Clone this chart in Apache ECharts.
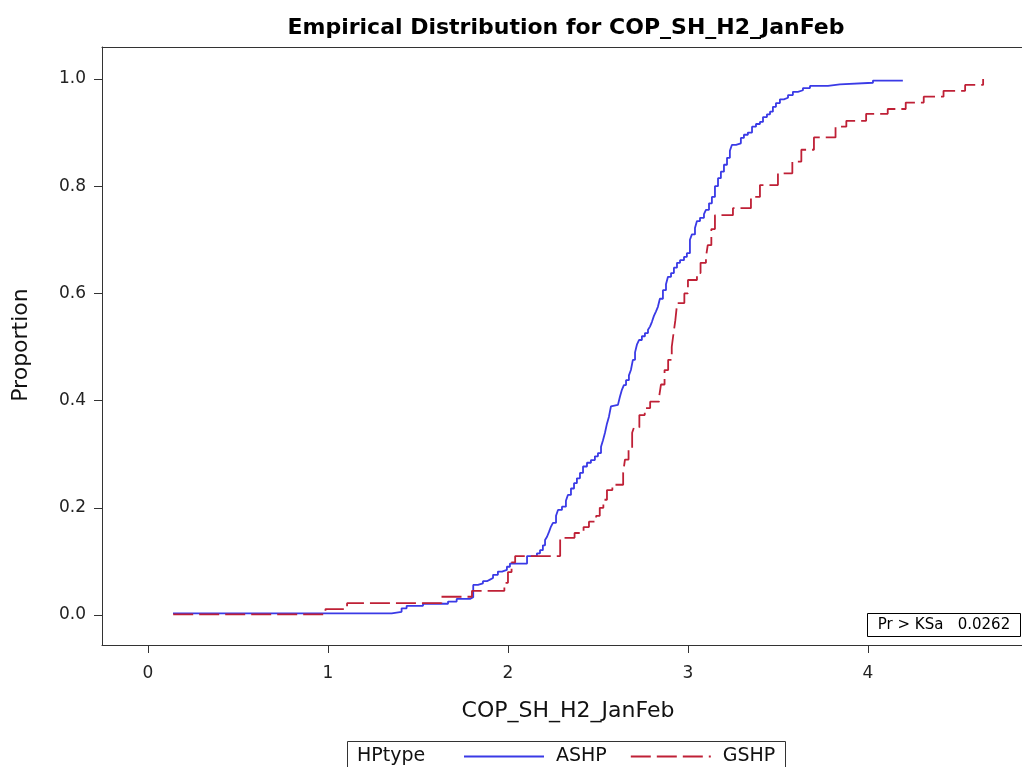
<!DOCTYPE html>
<html>
<head>
<meta charset="utf-8">
<script src="https://cdn.jsdelivr.net/npm/echarts@6/dist/echarts.min.js"></script>
<style>html,body{margin:0;padding:0;background:#fff;}#c{width:1022px;height:767px;}</style>
</head>
<body>
<div id="c"></div>
<script>
// ---- data ----
const ashpX = [0.139,1.354,1.409,1.437,1.528,1.667,1.715,1.789,1.807,1.833,1.861,1.883,1.90,1.917,1.944,1.967,1.994,2.011,2.106,2.161,2.178,2.194,2.206,2.217,2.228,2.239,2.25,2.267,2.278,2.30,2.322,2.333,2.35,2.367,2.383,2.40,2.417,2.439,2.461,2.483,2.50,2.517,2.528,2.539,2.55,2.561,2.572,2.583,2.611,2.622,2.633,2.644,2.656,2.672,2.683,2.694,2.706,2.717,2.728,2.744,2.761,2.778,2.789,2.80,2.811,2.822,2.833,2.844,2.861,2.878,2.889,2.906,2.922,2.939,2.956,2.978,2.994,3.011,3.022,3.039,3.05,3.067,3.089,3.10,3.117,3.133,3.15,3.167,3.183,3.20,3.217,3.233,3.244,3.267,3.294,3.311,3.333,3.356,3.378,3.40,3.417,3.439,3.456,3.472,3.489,3.511,3.533,3.556,3.583,3.611,3.639,3.678,3.778,3.844,4.028,4.194];
const ashpY = [0.003,0.006,0.0125,0.017,0.021,0.025,0.030,0.033,0.056,0.059,0.063,0.066,0.069,0.075,0.081,0.084,0.090,0.096,0.110,0.115,0.121,0.130,0.140,0.146,0.155,0.165,0.172,0.185,0.196,0.202,0.213,0.224,0.236,0.246,0.255,0.265,0.277,0.284,0.289,0.296,0.302,0.314,0.326,0.340,0.357,0.370,0.389,0.392,0.395,0.407,0.420,0.429,0.438,0.447,0.457,0.476,0.490,0.505,0.513,0.520,0.526,0.532,0.538,0.547,0.558,0.566,0.575,0.590,0.606,0.617,0.631,0.638,0.648,0.657,0.662,0.668,0.675,0.700,0.710,0.722,0.735,0.741,0.748,0.756,0.768,0.780,0.800,0.815,0.827,0.840,0.853,0.866,0.877,0.880,0.890,0.896,0.900,0.911,0.916,0.920,0.929,0.934,0.939,0.948,0.955,0.962,0.965,0.970,0.976,0.979,0.983,0.987,0.990,0.993,0.997,0.998];
const gshpX = [0.14,0.986,1.106,1.63,1.80,1.98,2.00,2.02,2.04,2.29,2.37,2.42,2.45,2.49,2.51,2.53,2.55,2.58,2.64,2.65,2.67,2.69,2.70,2.73,2.76,2.79,2.84,2.85,2.87,2.89,2.91,2.92,2.93,2.94,2.98,3.00,3.05,3.07,3.10,3.11,3.13,3.15,3.25,3.35,3.40,3.50,3.58,3.63,3.70,3.82,3.88,3.99,4.11,4.21,4.31,4.42,4.54,4.64];
const gshpY = [0.001,0.011,0.022,0.034,0.045,0.060,0.080,0.098,0.110,0.144,0.153,0.164,0.174,0.185,0.200,0.215,0.233,0.243,0.265,0.290,0.308,0.340,0.350,0.373,0.386,0.398,0.407,0.430,0.457,0.476,0.500,0.526,0.550,0.582,0.600,0.625,0.638,0.657,0.668,0.690,0.720,0.746,0.759,0.780,0.802,0.824,0.846,0.868,0.891,0.911,0.922,0.935,0.944,0.956,0.967,0.978,0.989,1.000];
const xTicks = [0, 1, 2, 3, 4];
const yTicks = [0.0, 0.2, 0.4, 0.6, 0.8, 1.0];
const seriesNames = ['ASHP', 'GSHP'];
const titleText = 'Empirical Distribution for COP_SH_H2_JanFeb';
const xTitle = 'COP_SH_H2_JanFeb';
const yTitle = 'Proportion';
const legendTitle = 'HPtype';
const ksLabel = 'Pr > KSa   0.0262';

const pairs = (xs, ys) => xs.map((x, i) => [x, ys[i]]);

const FONT = 'DejaVu Sans';
const AX = '#333';
const chart = echarts.init(document.getElementById('c'), null, {renderer: 'canvas'});
chart.setOption({
  animation: false,
  backgroundColor: '#fff',
  grid: {left: 102, right: 0, top: 47, bottom: 122, containLabel: false},
  xAxis: [{
    type: 'value', min: -0.2556, max: 4.856,
    axisLine: {show: true, onZero: false, lineStyle: {color: AX, width: 1}},
    axisTick: {show: true, length: 8, customValues: xTicks, lineStyle: {color: AX}},
    axisLabel: {customValues: xTicks, margin: 20, fontFamily: FONT, fontSize: 17, color: '#222'},
    splitLine: {show: false}
  }, {
    type: 'value', position: 'top', min: -0.2556, max: 4.856,
    axisLine: {show: true, onZero: false, lineStyle: {color: AX, width: 1}},
    axisTick: {show: false}, axisLabel: {show: false}, splitLine: {show: false}
  }],
  yAxis: {
    type: 'value', min: -0.056, max: 1.0597,
    axisLine: {show: true, onZero: false, lineStyle: {color: AX, width: 1}},
    axisTick: {show: true, length: 8, customValues: yTicks, lineStyle: {color: AX}},
    axisLabel: {customValues: yTicks, margin: 16, fontFamily: FONT, fontSize: 17, color: '#222',
      formatter: v => v.toFixed(1)},
    splitLine: {show: false}
  },
  legend: {
    left: 463, top: 747, padding: 0, itemWidth: 80, itemHeight: 14, itemGap: 23,
    data: seriesNames,
    itemStyle: {opacity: 0},
    textStyle: {fontFamily: FONT, fontSize: 19, color: '#111', padding: [0, 0, 0, 7]}
  },
  series: [{
    name: seriesNames[0], type: 'line', step: 'end', symbol: 'none', showSymbol: false,
    data: pairs(ashpX, ashpY),
    lineStyle: {color: '#3a3ae6', width: 1.8},
    itemStyle: {color: '#3a3ae6'}
  }, {
    name: seriesNames[1], type: 'line', step: 'end', symbol: 'none', showSymbol: false,
    data: pairs(gshpX, gshpY),
    lineStyle: {color: '#bf2036', width: 1.8, type: [20, 6]},
    itemStyle: {color: '#bf2036'}
  }],
  graphic: [
    {type: 'text', x: 566, y: 28, style: {text: titleText, fontFamily: FONT, fontWeight: 'bold', fontSize: 22, fill: '#000', align: 'center', verticalAlign: 'middle'}},
    {type: 'text', x: 568, y: 711, style: {text: xTitle, fontFamily: FONT, fontSize: 22, fill: '#111', align: 'center', verticalAlign: 'middle'}},
    {type: 'text', x: 21, y: 345, rotation: Math.PI / 2, style: {text: yTitle, fontFamily: FONT, fontSize: 22, fill: '#111', align: 'center', verticalAlign: 'middle'}},
    {type: 'rect', shape: {x: 867.5, y: 613.5, width: 153, height: 23}, style: {fill: '#fff', stroke: '#000', lineWidth: 1}},
    {type: 'text', x: 944, y: 625, style: {text: ksLabel, fontFamily: FONT, fontSize: 15, fill: '#000', align: 'center', verticalAlign: 'middle'}},
    {type: 'rect', shape: {x: 347.5, y: 741.5, width: 438, height: 40}, style: {fill: 'none', stroke: '#333', lineWidth: 1}},
    {type: 'text', x: 357, y: 756, style: {text: legendTitle, fontFamily: FONT, fontSize: 19, fill: '#111', align: 'left', verticalAlign: 'middle'}}
  ]
});
</script>
</body>
</html>
